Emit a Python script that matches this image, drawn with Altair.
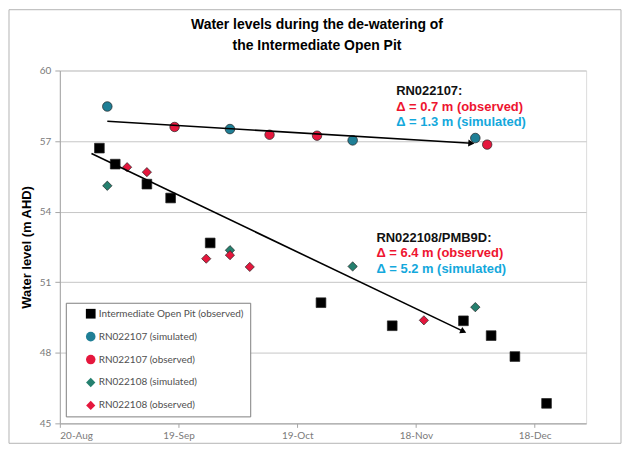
import math
import altair as alt
import pandas as pd

# ---------------- data ----------------
title_lines = ["Water levels during the de-watering of", "the Intermediate Open Pit"]

series_names = [
    "Intermediate Open Pit (observed)",
    "RN022107 (simulated)",
    "RN022107 (observed)",
    "RN022108 (simulated)",
    "RN022108 (observed)",
]

pit_dates = ["2010-08-30", "2010-09-03", "2010-09-11", "2010-09-17", "2010-09-27",
             "2010-10-25", "2010-11-12", "2010-11-30", "2010-12-07", "2010-12-13", "2010-12-21"]
pit_levels = [56.70, 56.02, 55.17, 54.58, 52.67, 50.13, 49.15, 49.36, 48.73, 47.84, 45.85]

rn107_sim_dates = ["2010-09-01", "2010-10-02", "2010-11-02", "2010-12-03"]
rn107_sim_levels = [58.47, 57.51, 57.03, 57.13]

rn107_obs_dates = ["2010-09-18", "2010-10-12", "2010-10-24", "2010-12-06"]
rn107_obs_levels = [57.60, 57.27, 57.23, 56.85]

rn108_sim_dates = ["2010-09-01", "2010-10-02", "2010-11-02", "2010-12-03"]
rn108_sim_levels = [55.10, 52.36, 51.67, 49.94]

rn108_obs_dates = ["2010-09-06", "2010-09-11", "2010-09-26", "2010-10-02", "2010-10-07", "2010-11-20"]
rn108_obs_levels = [55.89, 55.68, 52.00, 52.15, 51.65, 49.38]

# trend arrows (start -> end)
arrow_start_dates = ["2010-09-01", "2010-08-28"]
arrow_start_levels = [57.84, 56.47]
arrow_end_dates = ["2010-12-02", "2010-11-30"]
arrow_end_levels = [56.91, 48.91]

# annotations
note_dates = ["2010-11-13", "2010-11-08"]
note_titles = ["RN022107:", "RN022108/PMB9D:"]
note_title_levels = [59.12, 52.89]
note_obs = ["\u0394 = 0.7 m (observed)", "\u0394 = 6.4 m (observed)"]
note_obs_levels = [58.44, 52.25]
note_sim = ["\u0394 = 1.3 m (simulated)", "\u0394 = 5.2 m (simulated)"]
note_sim_levels = [57.80, 51.57]

x_tick_dates = ["2010-08-20", "2010-09-19", "2010-10-19", "2010-11-18", "2010-12-18"]
y_ticks = [45, 48, 51, 54, 57, 60]

# ---------------- build tables ----------------
rows = []
for name, ds, vs in [
    (series_names[0], pit_dates, pit_levels),
    (series_names[1], rn107_sim_dates, rn107_sim_levels),
    (series_names[2], rn107_obs_dates, rn107_obs_levels),
    (series_names[3], rn108_sim_dates, rn108_sim_levels),
    (series_names[4], rn108_obs_dates, rn108_obs_levels),
]:
    for d, v in zip(ds, vs):
        rows.append({"date": d + "T00:00:00", "level": v, "series": name})
points = pd.DataFrame(rows)

W, H = 528, 354
x0 = pd.Timestamp("2010-08-20")
x1 = pd.Timestamp("2010-12-31")
px_per_day = W / (x1 - x0).days
px_per_m = H / 15.0

arrows = []
for sd, sl, ed, el in zip(arrow_start_dates, arrow_start_levels, arrow_end_dates, arrow_end_levels):
    dx = (pd.Timestamp(ed) - pd.Timestamp(sd)).days * px_per_day
    dy = (sl - el) * px_per_m
    arrows.append({"sd": sd + "T00:00:00", "sl": sl, "ed": ed + "T00:00:00", "el": el,
                   "angle": math.degrees(math.atan2(dy, dx))})
arrows = pd.DataFrame(arrows)

def dt(s):
    y, m, d = s.split("-")
    return alt.DateTime(year=int(y), month=int(m), date=int(d))

xscale = alt.Scale(domain=[dt("2010-08-20"), dt("2010-12-31")])
yscale = alt.Scale(domain=[45, 60])

colors = ["#000000", "#1f7f96", "#e5173d", "#25806f", "#e5173d"]
shapes = ["square", "circle", "circle", "diamond", "diamond"]
sizes = [95, 85, 85, 75, 75]

LAB_FONT = "Lato"
BOLD_FONT = "Liberation Sans"

x_enc = alt.X("date:T", scale=xscale,
              axis=alt.Axis(values=[dt(s) for s in x_tick_dates], format="%d-%b", title=None,
                            grid=False, labelFont=LAB_FONT, labelFontSize=10, labelColor="#7a7a7a",
                            domainColor="#a6a6a6", tickColor="#a6a6a6", tickSize=4, labelPadding=3))
y_enc = alt.Y("level:Q", scale=yscale,
              axis=alt.Axis(values=y_ticks, title="Water level (m AHD)", titleFont=BOLD_FONT,
                            titleFontSize=13, titleFontWeight="bold", titleColor="#000000",
                            titlePadding=6, grid=True, gridColor="#c6c6c6",
                            labelFont=LAB_FONT, labelFontSize=10, labelColor="#7a7a7a",
                            domainColor="#a6a6a6", tickColor="#a6a6a6", tickSize=5, labelPadding=4))

# outer frame of the figure
border = alt.Chart(alt.Data(values=[{"a": 1}])).mark_rect(
    filled=False, stroke="#b4b4b4", strokeWidth=1
).encode(x=alt.value(-51), x2=alt.value(563), y=alt.value(-61), y2=alt.value(374))

# chart title drawn as text inside the frame (two lines)
def title_line(txt, ypx):
    return alt.Chart(alt.Data(values=[{"a": 1}])).mark_text(
        text=txt, font=BOLD_FONT, fontSize=14, fontWeight="bold", color="#000000",
        align="center", baseline="middle"
    ).encode(x=alt.value(258), y=alt.value(ypx))

legend = alt.Legend(title=None, orient="none", legendX=6, legendY=233,
                    strokeColor="#808080", fillColor="#ffffff", padding=6,
                    labelFont=LAB_FONT, labelFontSize=10, labelColor="#505050",
                    rowPadding=13, symbolSize=45, symbolStrokeWidth=0, symbolOffset=14,
                    labelOffset=3, labelLimit=300)

pts = alt.Chart(points).mark_point(filled=True, opacity=1, stroke="#222222", strokeWidth=0.7).encode(
    x=x_enc,
    y=y_enc,
    color=alt.Color("series:N", scale=alt.Scale(domain=series_names, range=colors), legend=legend),
    shape=alt.Shape("series:N", scale=alt.Scale(domain=series_names, range=shapes), legend=legend),
    size=alt.Size("series:N", scale=alt.Scale(domain=series_names, range=sizes), legend=None),
)

lines = alt.Chart(arrows).mark_rule(color="#000000", strokeWidth=1.6).encode(
    x=alt.X("sd:T", scale=xscale), x2="ed:T",
    y=alt.Y("sl:Q", scale=yscale), y2="el:Q")
heads = alt.Chart(arrows).mark_point(shape="triangle-right", filled=True, color="#000000",
                                     size=50, opacity=1).encode(
    x=alt.X("ed:T", scale=xscale), y=alt.Y("el:Q", scale=yscale),
    angle=alt.Angle("angle:Q", scale=None))

notes = pd.DataFrame({
    "date": [d + "T00:00:00" for d in note_dates],
    "t1": note_titles, "l1": note_title_levels,
    "t2": note_obs, "l2": note_obs_levels,
    "t3": note_sim, "l3": note_sim_levels,
})

def note_layer(tf, lf, color):
    return alt.Chart(notes).mark_text(align="left", baseline="middle", font=BOLD_FONT,
                                      fontSize=13, fontWeight="bold", color=color).encode(
        x=alt.X("date:T", scale=xscale), y=alt.Y(f"{lf}:Q", scale=yscale), text=f"{tf}:N")

chart = alt.layer(
    border, pts, lines, heads,
    note_layer("t1", "l1", "#111111"),
    note_layer("t2", "l2", "#ee1530"),
    note_layer("t3", "l3", "#14a8dc"),
    title_line(title_lines[0], -46),
    title_line(title_lines[1], -25),
).properties(
    width=W, height=H,
    autosize=alt.AutoSizeParams(type="none"),
    padding={"left": 52, "top": 62, "right": 36, "bottom": 22},
).configure_view(stroke=None).configure(background="#ffffff")

chart.save("out.html", embed_options={"renderer": "svg", "actions": False})
